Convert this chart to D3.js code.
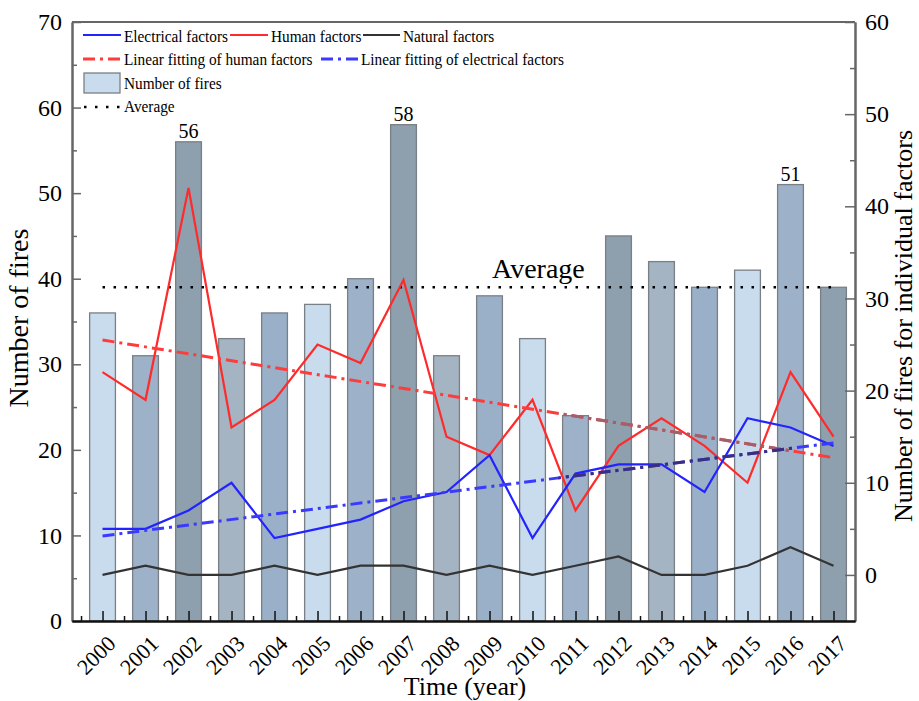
<!DOCTYPE html>
<html>
<head>
<meta charset="utf-8">
<script src="https://cdn.jsdelivr.net/npm/d3@7"></script>
<style>
  body { margin: 0; background: #fff; }
  svg { display: block; }
  svg text { font-family: "Liberation Serif", "Tinos", "Times New Roman", "DejaVu Serif", serif; }
</style>
</head>
<body>
<svg id="chart" width="919" height="701"></svg>
<script>
// ---- data ----
const years = [2000, 2001, 2002, 2003, 2004, 2005, 2006, 2007, 2008, 2009,
               2010, 2011, 2012, 2013, 2014, 2015, 2016, 2017];
const fires = [36, 31, 56, 33, 36, 37, 40, 58, 31, 38, 33, 24, 45, 42, 39, 41, 51, 39];
const electrical = [5, 5, 7, 10, 4, 5, 6, 8, 9, 13, 4, 11, 12, 12, 9, 17, 16, 14];
const human = [22, 19, 42, 16, 19, 25, 23, 32, 15, 13, 19, 7, 14, 17, 14, 10, 22, 15];
const natural = [0, 1, 0, 0, 1, 0, 1, 1, 0, 1, 0, 1, 2, 0, 0, 1, 3, 1];
const averageFires = 39;
const labelledYears = [2002, 2007, 2016];
const leftTicks = [0, 10, 20, 30, 40, 50, 60, 70];
const rightTicks = [0, 10, 20, 30, 40, 50, 60];

// ---- layout ----
const svg = d3.select("#chart");
const L = 72, R = 855, T = 22, B = 621;

const x = d3.scaleLinear().domain([1999.29, 2017.5]).range([L, R]);
const yL = d3.scaleLinear().domain([0, 70]).range([B, T]);
const yR = d3.scaleLinear().domain([-5, 60]).range([B, T]);
const step = x(2001) - x(2000);
const barW = step * 0.6;

const shades = ["#c8dcee", "#9db2c9", "#8e9fae", "#a5b4c2", "#99b0c8"];

// least-squares straight line through a series
function linearFit(xs, ys) {
  const mx = d3.mean(xs), my = d3.mean(ys);
  let sxy = 0, sxx = 0;
  xs.forEach((v, i) => { sxy += (v - mx) * (ys[i] - my); sxx += (v - mx) * (v - mx); });
  const k = sxy / sxx, b = my - k * mx;
  return [xs[0], xs[xs.length - 1]].map(v => ({ year: v, value: k * v + b }));
}

// ---- bars ----
const gBars = svg.append("g");
gBars.selectAll("rect").data(years).join("rect")
  .attr("x", (d) => x(d) - barW / 2)
  .attr("y", (d, i) => yL(fires[i]))
  .attr("width", barW)
  .attr("height", (d, i) => B - yL(fires[i]))
  .attr("fill", (d, i) => shades[i % 5])
  .attr("stroke", "#7a7f85")
  .attr("stroke-width", 1.3);

gBars.selectAll("text").data(labelledYears).join("text")
  .attr("x", d => x(d))
  .attr("y", d => yL(fires[years.indexOf(d)]) - 4)
  .attr("text-anchor", "middle")
  .attr("font-size", 20)
  .text(d => fires[years.indexOf(d)]);

// ---- average ----
svg.append("line")
  .attr("x1", x(years[0])).attr("x2", x(years[years.length - 1]))
  .attr("y1", yL(averageFires)).attr("y2", yL(averageFires))
  .attr("stroke", "#000").attr("stroke-width", 2.5)
  .attr("stroke-dasharray", "2.5,8.5");
svg.append("text")
  .attr("x", 492).attr("y", yL(averageFires) - 9)
  .attr("font-size", 28)
  .text("Average");

// ---- factor lines (right axis) ----
const line = d3.line().x(d => x(d.year)).y(d => yR(d.value));
const series = (vals) => years.map((y, i) => ({ year: y, value: vals[i] }));

[[natural, "#333"], [human, "#ff2a2a"], [electrical, "#2323ff"]].forEach(([vals, c]) => {
  svg.append("path").datum(series(vals))
    .attr("d", line).attr("fill", "none")
    .attr("stroke", c).attr("stroke-width", 2.2)
    .attr("stroke-linejoin", "miter");
});

// ---- linear fits ----
const humanFit = linearFit(years, human);
const elecFit = linearFit(years, electrical);
const fitDash = "12,5,3,5";

svg.append("defs").append("clipPath").attr("id", "fade")
  .append("rect")
  .attr("x", x(2010.6)).attr("y", T)
  .attr("width", x(2016.05) - x(2010.6)).attr("height", B - T);

[[humanFit, "#ff3b3b", "#a35f6c"], [elecFit, "#3a3aff", "#3a2f7e"]].forEach(([pts, c, cm]) => {
  svg.append("path").datum(pts)
    .attr("d", line).attr("fill", "none")
    .attr("stroke", c).attr("stroke-width", 3)
    .attr("stroke-dasharray", fitDash);
  svg.append("path").datum(pts)
    .attr("d", line).attr("fill", "none")
    .attr("clip-path", "url(#fade)")
    .attr("stroke", cm).attr("stroke-width", 3)
    .attr("stroke-dasharray", fitDash);
});

// ---- axes ----
const axisColor = "#666";
function styleAxis(g, color) {
  g.attr("font-family", null);
  g.select(".domain").attr("stroke", color).attr("stroke-width", 2);
  g.selectAll(".tick line").attr("stroke", color).attr("stroke-width", 1.5);
  g.selectAll(".tick text").attr("fill", "#000").attr("font-size", 24);
}

// left
const gLm = svg.append("g").attr("transform", `translate(${L},0)`)
  .call(d3.axisLeft(yL).tickValues(d3.range(5, 70, 10)).tickSize(-5).tickSizeOuter(0).tickFormat(""));
styleAxis(gLm, axisColor);
const gL = svg.append("g").attr("transform", `translate(${L},0)`)
  .call(d3.axisLeft(yL).tickValues(leftTicks).tickSize(-9).tickSizeOuter(0).tickPadding(10));
styleAxis(gL, axisColor);

// right
const gRm = svg.append("g").attr("transform", `translate(${R},0)`)
  .call(d3.axisRight(yR).tickValues(d3.range(5, 60, 10)).tickSize(-5).tickSizeOuter(0).tickFormat(""));
styleAxis(gRm, axisColor);
const gR = svg.append("g").attr("transform", `translate(${R},0)`)
  .call(d3.axisRight(yR).tickValues(rightTicks).tickSize(-10).tickSizeOuter(0).tickPadding(10));
styleAxis(gR, axisColor);

// top frame
svg.append("line").attr("x1", L).attr("x2", R).attr("y1", T).attr("y2", T)
  .attr("stroke", axisColor).attr("stroke-width", 2);

// bottom
const gBm = svg.append("g").attr("transform", `translate(0,${B})`)
  .call(d3.axisBottom(x).tickValues(years.map(y => y - 0.5)).tickSize(-5).tickSizeOuter(0).tickFormat(""));
styleAxis(gBm, "#111");
const gB = svg.append("g").attr("transform", `translate(0,${B})`)
  .call(d3.axisBottom(x).tickValues(years).tickSize(-10).tickSizeOuter(0).tickFormat(d3.format("d")));
styleAxis(gB, "#111");
gB.selectAll(".tick text")
  .attr("font-size", 22)
  .attr("x", 0).attr("y", 0).attr("dy", 0)
  .attr("text-anchor", "end")
  .attr("transform", "translate(14,24) rotate(-45)");

// axis titles
svg.append("text")
  .attr("transform", "translate(28,318) rotate(-90)")
  .attr("text-anchor", "middle").attr("font-size", 28)
  .text("Number of fires");
svg.append("text")
  .attr("transform", "translate(912,326) rotate(-90)")
  .attr("text-anchor", "middle").attr("font-size", 26)
  .text("Number of fires for individual factors");
svg.append("text")
  .attr("x", 465).attr("y", 695)
  .attr("text-anchor", "middle").attr("font-size", 26)
  .text("Time (year)");

// ---- legend ----
const lg = svg.append("g").attr("font-size", 17);
function legText(tx, ty, str) {
  lg.append("text")
    .attr("transform", `translate(${tx},${ty}) scale(0.9,1)`)
    .attr("dy", "0.35em")
    .text(str);
}
function legLine(x1, x2, ly, color, dash, width) {
  lg.append("line").attr("x1", x1).attr("x2", x2).attr("y1", ly).attr("y2", ly)
    .attr("stroke", color).attr("stroke-width", width || 2.2)
    .attr("stroke-dasharray", dash || null);
}
legLine(83, 121, 35, "#2323ff"); legText(124, 36, "Electrical factors");
legLine(230, 268, 35, "#ff2a2a"); legText(271, 36, "Human factors");
legLine(363, 400, 35, "#333"); legText(403, 36, "Natural factors");
legLine(83, 121, 59, "#ff3b3b", fitDash, 3); legText(124, 59, "Linear fitting of human factors");
legLine(321, 358, 59, "#3a3aff", fitDash, 3); legText(361, 59, "Linear fitting of electrical factors");
lg.append("rect").attr("x", 84).attr("y", 73).attr("width", 36).attr("height", 20)
  .attr("fill", shades[0]).attr("stroke", "#7a7f85").attr("stroke-width", 1.3);
legText(124, 83, "Number of fires");
legLine(84, 121, 107, "#000", "2.5,8.5", 2.5); legText(124, 106, "Average");
</script>
</body>
</html>
